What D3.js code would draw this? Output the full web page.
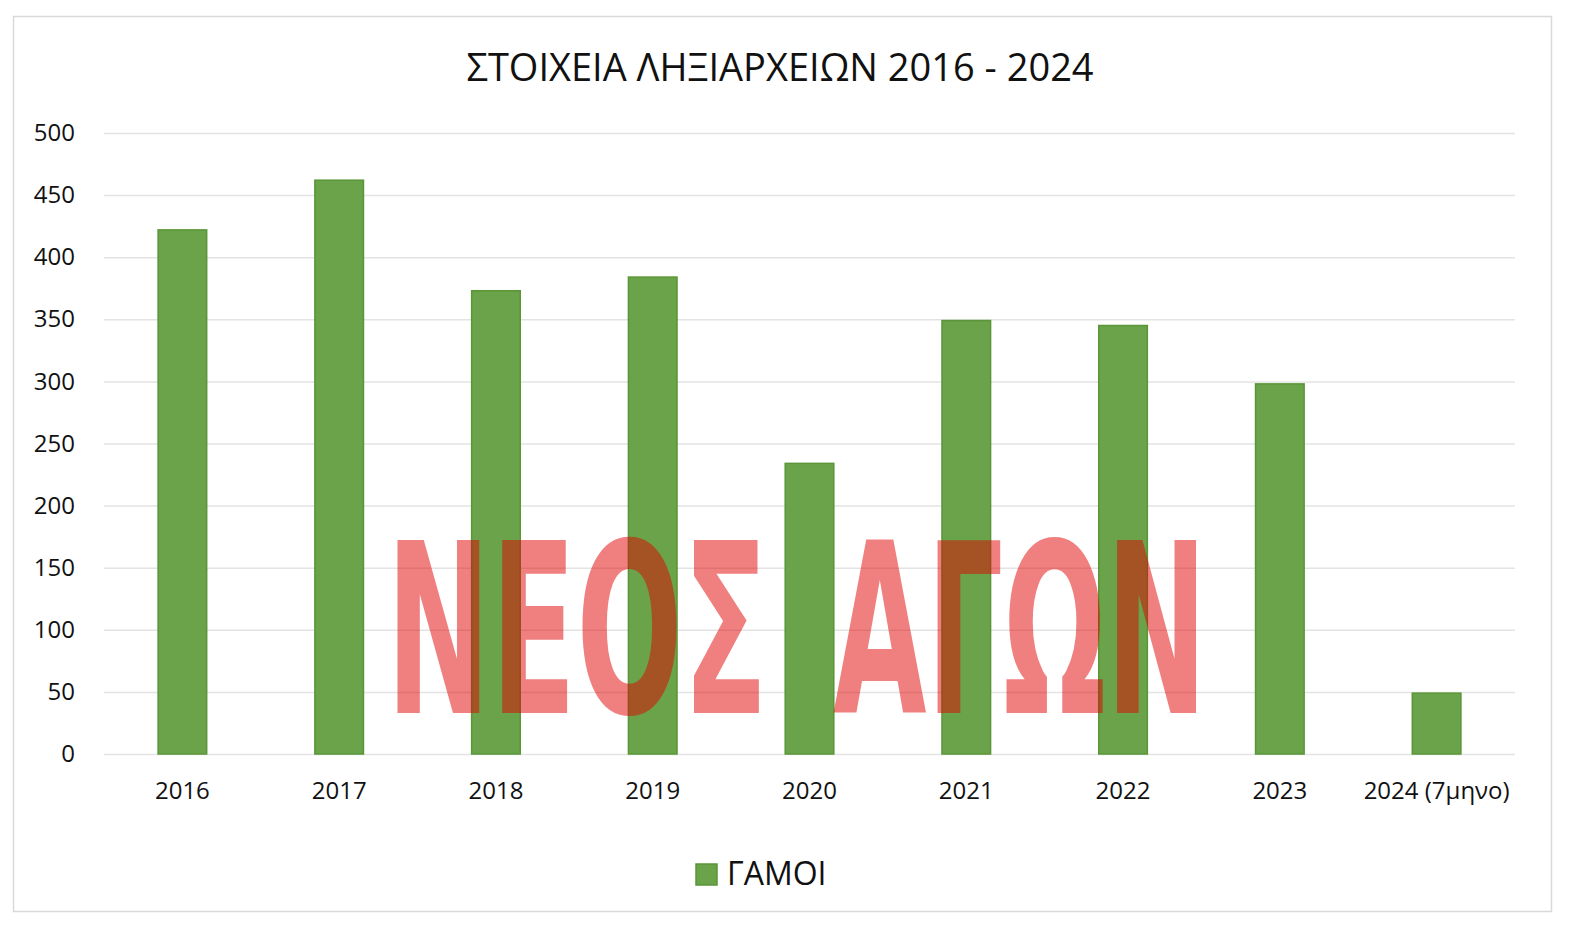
<!DOCTYPE html>
<html>
<head>
<meta charset="utf-8">
<script src="https://cdn.jsdelivr.net/npm/d3@7"></script>
<style>
  html, body { margin: 0; padding: 0; background: #fff; }
  svg { display: block; }
</style>
</head>
<body>
<svg id="chart" width="1575" height="942"></svg>
<script>
const categories = ["2016", "2017", "2018", "2019", "2020", "2021", "2022", "2023", "2024 (7μηνο)"];
const gamoi = [422, 462, 373, 384, 234, 349, 345, 298, 49];
const yTicks = [0, 50, 100, 150, 200, 250, 300, 350, 400, 450, 500];
const titleText = "ΣΤΟΙΧΕΙΑ ΛΗΞΙΑΡΧΕΙΩΝ 2016 - 2024";
const seriesName = "ΓΑΜΟΙ";
const watermarkWords = ["ΝΕΟΣ", "ΑΓΩΝ"];

(function () {
const svg = d3.select("#chart");
const font = "'Open Sans', 'Noto Sans', sans-serif";
const pLeft = 104, pRight = 1515, pTop = 133, pBottom = 754;

// frame
svg.append("rect")
  .attr("x", 13.5).attr("y", 16.5).attr("width", 1538).attr("height", 895)
  .attr("fill", "#fff").attr("stroke", "#d9d9d9").attr("stroke-width", 1.5);

const x = d3.scaleBand().domain(categories).range([pLeft, pRight]).paddingInner(0.69).paddingOuter(0.345);
const y = d3.scaleLinear().domain([0, 500]).range([pBottom, pTop]);

// gridlines
const yAxis = d3.axisLeft(y).tickValues(yTicks).tickSize(-(pRight - pLeft)).tickPadding(29);
const gy = svg.append("g").attr("transform", `translate(${pLeft},0)`).call(yAxis);
gy.select(".domain").remove();
gy.selectAll(".tick line").attr("stroke", "#e3e3e3").attr("stroke-width", 1.5);
gy.selectAll(".tick text")
  .attr("font-family", font).attr("font-size", 24).attr("fill", "#111");

// bars
svg.append("g").selectAll("rect").data(gamoi).join("rect")
  .attr("x", (d, i) => x(categories[i]))
  .attr("y", d => y(d))
  .attr("width", x.bandwidth())
  .attr("height", d => y(0) - y(d))
  .attr("fill", "#6aa34a")
  .attr("stroke", "#5a9637")
  .attr("stroke-width", 1.5);

// x axis labels
const xAxis = d3.axisBottom(x).tickSize(0).tickPadding(28);
const gx = svg.append("g").attr("transform", `translate(0,${pBottom})`).call(xAxis);
gx.select(".domain").remove();
gx.selectAll(".tick text")
  .attr("font-family", font).attr("font-size", 24).attr("fill", "#111");

// title
svg.append("text")
  .attr("x", 780).attr("y", 81)
  .attr("text-anchor", "middle")
  .attr("font-family", font).attr("font-size", 38).attr("fill", "#111")
  .text(titleText);

// legend
svg.append("rect")
  .attr("x", 696).attr("y", 864).attr("width", 21).attr("height", 21)
  .attr("fill", "#6aa34a").attr("stroke", "#5a9637").attr("stroke-width", 1.5);
svg.append("text")
  .attr("x", 727).attr("y", 885)
  .attr("font-family", font).attr("font-size", 32).attr("fill", "#111")
  .text(seriesName);

// watermark
const wm = svg.append("g").attr("opacity", 0.5);
const wmPos = [[386, 768], [833, 1207]];
watermarkWords.forEach((w, i) => {
  const t = wm.append("text")
    .attr("x", 0).attr("y", 0)
    .attr("font-family", "'DejaVu Sans Condensed', 'DejaVu Sans', sans-serif")
    .attr("font-stretch", "condensed")
    .attr("font-weight", "bold")
    .attr("font-size", 237)
    .attr("fill", "#e10000")
    .text(w);
  const bb = t.node().getBBox();
  const sx = (wmPos[i][1] - wmPos[i][0]) / bb.width;
  t.attr("transform", `translate(${wmPos[i][0] - bb.x * sx},713) scale(${sx},1)`);
});
})();
</script>
</body>
</html>
